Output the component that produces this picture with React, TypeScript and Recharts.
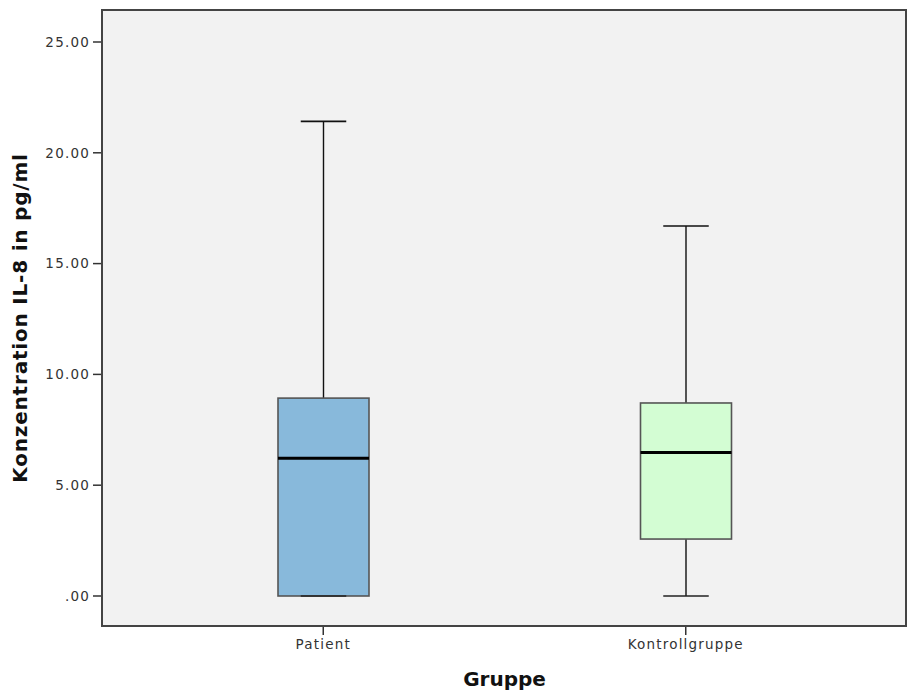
import { BarChart, Bar, XAxis, YAxis, CartesianGrid } from "recharts";

const groups = ["Patient", "Kontrollgruppe"];
const mins = [0, 0];
const q1s = [0, 2.57];
const medians = [6.22, 6.48];
const q3s = [8.93, 8.71];
const maxs = [21.42, 16.7];
const boxColors = ["#88b9db", "#d3fdd3"];
const yTicks = [0, 5, 10, 15, 20, 25];

const data = groups.map((name, i) => ({
  name,
  range: [mins[i], maxs[i]],
  min: mins[i],
  q1: q1s[i],
  median: medians[i],
  q3: q3s[i],
  max: maxs[i],
  color: boxColors[i],
}));

const tickFont = {
  fontFamily: "DejaVu Sans, sans-serif",
  fontSize: 13.5,
  letterSpacing: 1.2,
  fill: "#333",
};

// the bar spans min..max; the rest of the box is placed on that same linear scale
function BoxShape(props: any) {
  const { x, y, width, height, payload } = props;
  const { min, q1, median, q3, max, color } = payload;
  const toY = (v: number) => y + (height * (max - v)) / (max - min);
  const cx = x + width / 2;
  const cap = width / 4;
  return (
    <g>
      <line x1={cx} x2={cx} y1={toY(max)} y2={toY(q3)} stroke="#111" strokeWidth={1.4} />
      <line x1={cx} x2={cx} y1={toY(q1)} y2={toY(min)} stroke="#111" strokeWidth={1.4} />
      <line x1={cx - cap} x2={cx + cap} y1={toY(max)} y2={toY(max)} stroke="#111" strokeWidth={1.6} />
      <rect
        x={x}
        y={toY(q3)}
        width={width}
        height={toY(q1) - toY(q3)}
        fill={color}
        stroke="#555"
        strokeWidth={1.6}
      />
      <line x1={cx - cap} x2={cx + cap} y1={toY(min)} y2={toY(min)} stroke="#222" strokeWidth={1.6} />
      <line x1={x} x2={x + width} y1={toY(median)} y2={toY(median)} stroke="#000" strokeWidth={3} />
    </g>
  );
}

export default function App() {
  return (
    <div style={{ position: "absolute", left: 0, top: 0, width: 913, height: 699, background: "#fff" }}>
      <BarChart
        width={913}
        height={699}
        data={data}
        barSize={91}
        margin={{ top: 10, right: 6, bottom: 0, left: 0 }}
      >
        <CartesianGrid fill="#f2f2f2" horizontal={false} vertical={false} />
        <XAxis
          dataKey="name"
          padding={{ left: 40, right: 40 }}
          height={73}
          axisLine={false}
          tickLine={{ stroke: "#333", strokeWidth: 1.5 }}
          tickSize={9}
          tickMargin={4}
          tick={tickFont}
          label={{
            value: "Gruppe",
            position: "insideBottom",
            offset: 13,
            style: { fontFamily: "DejaVu Sans, sans-serif", fontSize: 20, fontWeight: "bold", fill: "#111" },
          }}
        />
        <YAxis
          type="number"
          domain={[-1.354, 26.444]}
          allowDataOverflow
          ticks={yTicks}
          tickFormatter={(v: number) => (v === 0 ? ".00" : v.toFixed(2))}
          width={102}
          axisLine={false}
          tickLine={{ stroke: "#333", strokeWidth: 1.5 }}
          tickSize={9}
          tickMargin={3}
          tick={tickFont}
          label={{
            value: "Konzentration IL-8 in pg/ml",
            angle: -90,
            position: "insideLeft",
            offset: 20,
            style: {
              fontFamily: "DejaVu Sans, sans-serif",
              fontSize: 20,
              fontWeight: "bold",
              letterSpacing: 0.8,
              fill: "#111",
              textAnchor: "middle",
            },
          }}
        />
        <Bar dataKey="range" shape={BoxShape} isAnimationActive={false} />
      </BarChart>
      <div
        style={{
          position: "absolute",
          left: 101,
          top: 9,
          width: 806,
          height: 618,
          border: "2px solid #444",
          boxSizing: "border-box",
          pointerEvents: "none",
        }}
      />
    </div>
  );
}
